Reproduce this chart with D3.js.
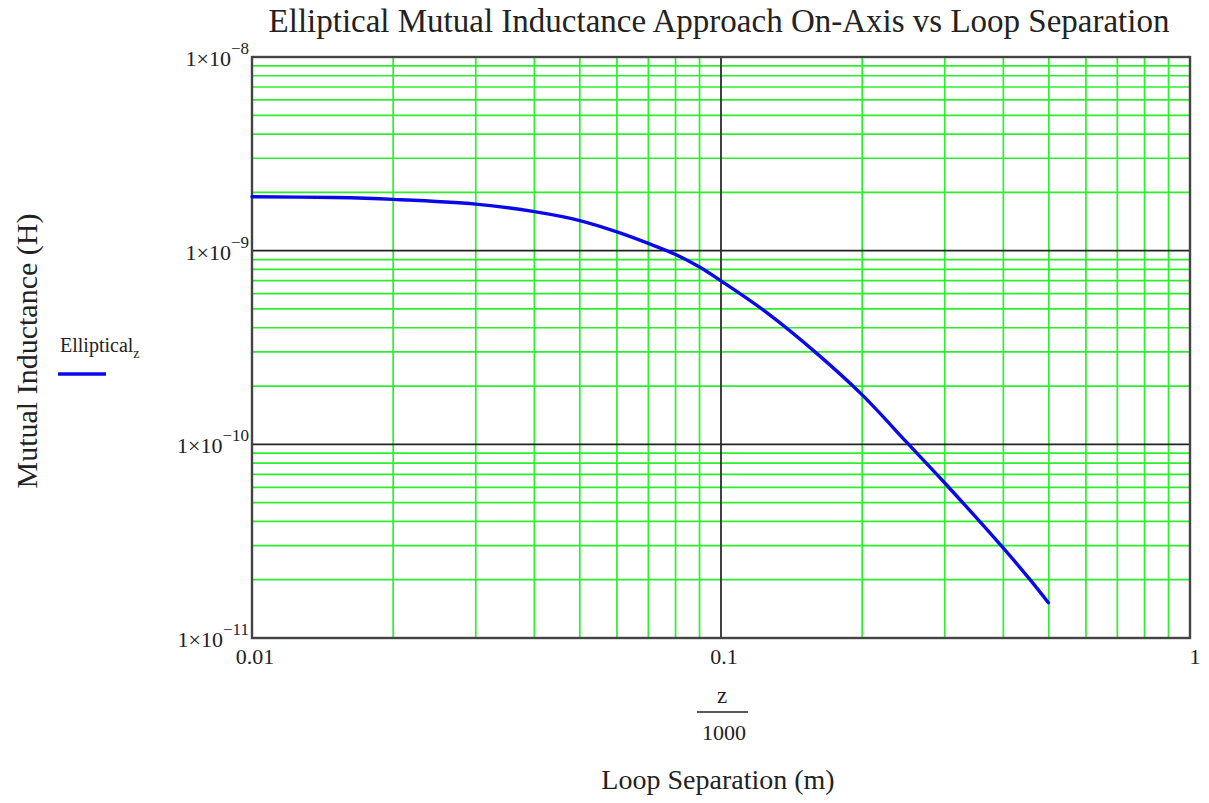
<!DOCTYPE html>
<html>
<head>
<meta charset="utf-8">
<script src="https://cdn.jsdelivr.net/npm/d3@7"></script>
<style>
  body { margin: 0; background: #fff; }
  text { font-family: "Liberation Serif", "Times New Roman", serif; fill: #222; }
</style>
</head>
<body>
<div id="here"></div>
<script>
// Data: loop separation z (mm) and mutual inductance (H)
const zmm = [10, 15, 20, 30, 40, 50, 60, 70, 80, 90, 100, 125, 160, 200, 249, 298, 400, 456, 499];
const mutual = [1.90e-9, 1.88e-9, 1.84e-9, 1.74e-9, 1.59e-9, 1.43e-9, 1.25e-9, 1.09e-9, 9.56e-10,
  8.23e-10, 6.98e-10, 4.80e-10, 2.95e-10, 1.80e-10, 1.023e-10, 6.43e-11, 2.91e-11, 2.0e-11, 1.52e-11];
const xTicks = [0.01, 0.1, 1];
const xTickText = ["0.01", "0.1", "1"];
const yTicks = [1e-8, 1e-9, 1e-10, 1e-11];
const yExp = ["\u22128", "\u22129", "\u221210", "\u221211"];

const width = 1209, height = 803;
const margin = { top: 57, right: 19, bottom: 165, left: 252 };

const svg = d3.select("#here")
  .append("svg")
  .attr("width", width)
  .attr("height", height);

const xScale = d3.scaleLog()
  .domain([0.01, 1])
  .range([margin.left, width - margin.right]);

const yScale = d3.scaleLog()
  .domain([1e-11, 1e-8])
  .range([height - margin.bottom, margin.top]);

// minor grid (green)
const minorX = [];
const minorY = [];
[0.01, 0.1].forEach(function(d){
  for (let k = 2; k <= 9; k++) minorX.push(d * k);
});
[1e-11, 1e-10, 1e-9].forEach(function(d){
  for (let k = 2; k <= 9; k++) minorY.push(d * k);
});

svg.append("g").selectAll("line")
  .data(minorX)
  .enter()
  .append("line")
  .attr("x1", d => xScale(d)).attr("x2", d => xScale(d))
  .attr("y1", yScale(1e-11)).attr("y2", yScale(1e-8))
  .attr("stroke", "#2bf02b")
  .attr("stroke-width", 1.7);

svg.append("g").selectAll("line")
  .data(minorY)
  .enter()
  .append("line")
  .attr("y1", d => yScale(d)).attr("y2", d => yScale(d))
  .attr("x1", xScale(0.01)).attr("x2", xScale(1))
  .attr("stroke", "#2bf02b")
  .attr("stroke-width", 1.7);

// major internal grid (black)
svg.append("line")
  .attr("x1", xScale(0.1)).attr("x2", xScale(0.1))
  .attr("y1", yScale(1e-11)).attr("y2", yScale(1e-8))
  .attr("stroke", "#222").attr("stroke-width", 1.7);

svg.append("g").selectAll("line")
  .data([1e-9, 1e-10])
  .enter()
  .append("line")
  .attr("y1", d => yScale(d)).attr("y2", d => yScale(d))
  .attr("x1", xScale(0.01)).attr("x2", xScale(1))
  .attr("stroke", "#222").attr("stroke-width", 1.7);

// frame
svg.append("rect")
  .attr("x", xScale(0.01))
  .attr("y", yScale(1e-8))
  .attr("width", xScale(1) - xScale(0.01))
  .attr("height", yScale(1e-11) - yScale(1e-8))
  .attr("fill", "none")
  .attr("stroke", "#444")
  .attr("stroke-width", 2.4);

// curve
const data = zmm.map((z, i) => ({ x: z / 1000, y: mutual[i] }));
const line = d3.line()
  .x(d => xScale(d.x))
  .y(d => yScale(d.y))
  .curve(d3.curveCatmullRom);

svg.append("path")
  .datum(data)
  .attr("d", line)
  .attr("fill", "none")
  .attr("stroke", "#0a0ae8")
  .attr("stroke-width", 3.4)
  .attr("stroke-linecap", "round");

// x tick labels
svg.append("g").selectAll("text")
  .data(xTicks)
  .enter()
  .append("text")
  .attr("x", (d, i) => xScale(d) + (i === 2 ? 5 : 3))
  .attr("y", height - margin.bottom + 26)
  .attr("text-anchor", "middle")
  .attr("font-size", 22)
  .text((d, i) => xTickText[i]);

// y tick labels: 1×10 with superscript exponent
const yLab = svg.append("g").selectAll("text")
  .data(yTicks)
  .enter()
  .append("text")
  .attr("x", margin.left - 3)
  .attr("y", d => yScale(d) + 9)
  .attr("text-anchor", "end")
  .attr("font-size", 22);
yLab.append("tspan").text("1\u00d710");
yLab.append("tspan")
  .attr("dy", -12)
  .attr("font-size", 17)
  .text((d, i) => yExp[i]);

// title
svg.append("text")
  .attr("x", 719)
  .attr("y", 32)
  .attr("text-anchor", "middle")
  .attr("font-size", 33)
  .text("Elliptical Mutual Inductance Approach On-Axis vs Loop Separation");

// x axis label: z / 1000 fraction
svg.append("text")
  .attr("x", 722).attr("y", 703)
  .attr("text-anchor", "middle")
  .attr("font-size", 23)
  .text("z");
svg.append("line")
  .attr("x1", 697).attr("x2", 748)
  .attr("y1", 712).attr("y2", 712)
  .attr("stroke", "#222").attr("stroke-width", 1.6);
svg.append("text")
  .attr("x", 724).attr("y", 740)
  .attr("text-anchor", "middle")
  .attr("font-size", 22)
  .text("1000");

svg.append("text")
  .attr("x", 718).attr("y", 789)
  .attr("text-anchor", "middle")
  .attr("font-size", 28)
  .text("Loop Separation (m)");

// y axis label
svg.append("text")
  .attr("transform", "translate(37, 351) rotate(-90)")
  .attr("text-anchor", "middle")
  .attr("font-size", 30)
  .text("Mutual Inductance (H)");

// legend
const leg = svg.append("text")
  .attr("x", 60).attr("y", 352)
  .attr("font-size", 20);
leg.append("tspan").text("Elliptical");
leg.append("tspan").attr("dy", 6).attr("font-size", 14).text("z");
svg.append("line")
  .attr("x1", 58).attr("x2", 106)
  .attr("y1", 374).attr("y2", 374)
  .attr("stroke", "#0a0ae8").attr("stroke-width", 3.4);
</script>
</body>
</html>
